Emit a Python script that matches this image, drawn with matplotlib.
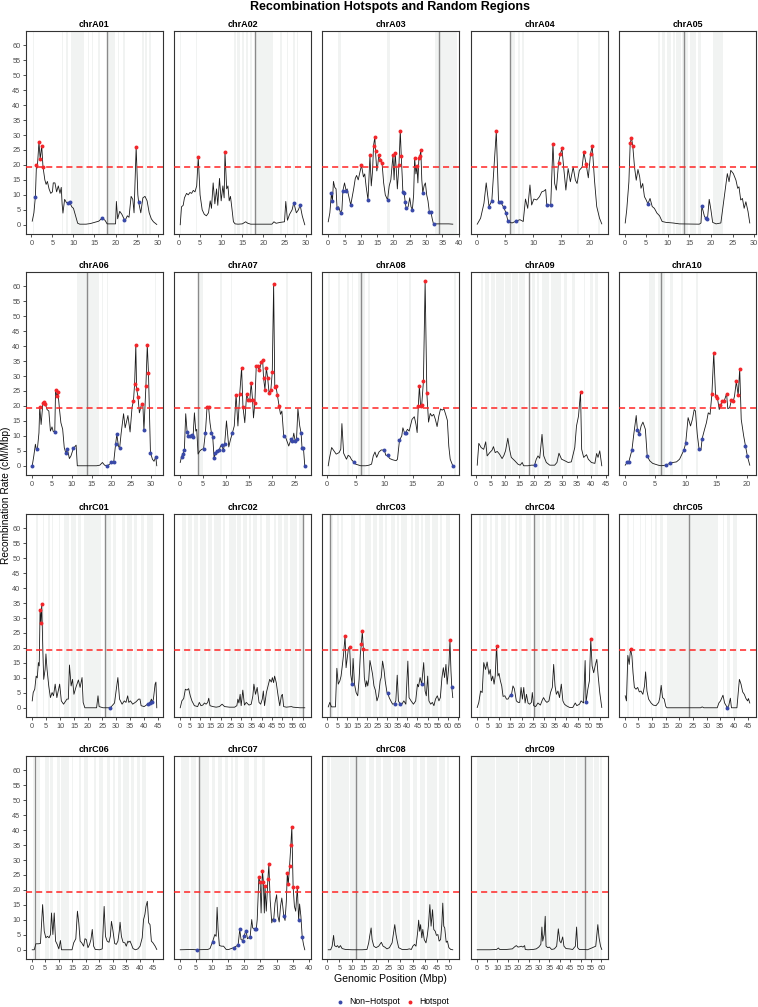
import matplotlib
matplotlib.use("Agg")
import matplotlib.pyplot as plt

plt.rcParams["font.family"] = ["Liberation Sans", "DejaVu Sans"]

# ---------------- data (Mbp, cM/Mbp) ----------------
chroms = ["chrA01", "chrA02", "chrA03", "chrA04", "chrA05", "chrA06", "chrA07",
          "chrA08", "chrA09", "chrA10", "chrC01", "chrC02", "chrC03", "chrC04",
          "chrC05", "chrC06", "chrC07", "chrC08", "chrC09"]
centromeres = [17.9, 18.0, 34.1, 5.9, 13.85, 13.75, 3.8, 6.0, 18.3, 6.0,
               26.0, 59.9, 1.3, 25.6, 23.7, 1.1, 5.9, 12.0, 52.1]
threshold = 19.35

A01_line = [(0.2, 1.2), (0.6, 4), (0.95, 9.4), (1.2, 19.9), (1.4, 19.0), (1.8, 27.6), (2.1, 21.9), (2.45, 26.5),
            (2.76, 19.3), (3.2, 15), (3.5, 13.5), (3.8, 14.5), (4.2, 12), (4.6, 10.5), (5.0, 11), (5.2, 14), (5.6, 14),
            (6.0, 11), (6.4, 13), (6.8, 10.5), (7.1, 12.5), (7.3, 7), (7.5, 3.9), (7.9, 8.5), (8.3, 7.5), (8.7, 7.2),
            (9.1, 7.5), (9.6, 6), (10, 5.5), (10.5, 3), (11, 0.5), (11.5, 0.2), (13, 0.2), (14, 0.4), (15, 0.8),
            (16, 1.2), (16.8, 2.2), (17.5, 1.5), (18, 0.3), (20, 0.3), (20.2, 7.8), (20.5, 2), (21, 4.5), (21.5, 3.5),
            (22.1, 1.7), (22.4, 1.8), (22.8, 3), (23.2, 2.5), (23.7, 9.5), (24.1, 8.5), (24.4, 4), (24.9, 26),
            (25.3, 10), (25.5, 7.5), (26, 4), (26.5, 9), (27, 9.5), (27.5, 8), (28, 4), (28.5, 2), (29, 1), (29.8, 0.1)]
A01_hot = [(1.2, 19.9), (1.8, 27.6), (2.1, 21.9), (2.45, 26.5), (2.76, 19.3), (24.9, 26)]
A01_non = [(0.95, 9.4), (8.7, 7.2), (9.1, 7.5), (16.8, 2.2), (22.1, 1.7), (25.5, 7.5)]
A01_bands = [(0.4, 0.7), (7.2, 7.5), (8.3, 8.6), (9.4, 9.8), (10.0, 12.6), (13.4, 13.8), (14.4, 14.7),
             (15.8, 16.2), (18.0, 19.8), (20.6, 20.9), (21.8, 22.2), (26.3, 26.7), (27.1, 27.5), (28.0, 28.4)]

A02_line = [(0.3, 0), (0.6, 6), (1, 6.5), (1.3, 9), (1.8, 10.5), (2.2, 10), (2.6, 10.8), (3, 10.5), (3.4, 11.5),
            (3.8, 11), (4.2, 13), (4.57, 22.6), (5.0, 10), (5.5, 5), (6, 3.5), (6.5, 3), (7, 4), (7.4, 8), (7.7, 5.5),
            (8.1, 14), (8.5, 7), (8.9, 12), (9.2, 6.5), (9.6, 15.5), (10, 8), (10.4, 13), (10.7, 9), (10.9, 24.2),
            (11.3, 12), (11.6, 13), (11.9, 8), (12.2, 9.5), (12.5, 6), (12.9, 1), (13.3, 0.3), (14, 0.2), (15, 0.3),
            (15.8, 1), (16.3, 0.5), (17, 0.2), (22, 0.2), (22.5, 1), (23, 0.5), (24, 0.8), (25, 1), (25.3, 7.8),
            (25.7, 1.5), (26.2, 3.5), (26.8, 5), (27.2, 7.4), (27.8, 4), (28.3, 5), (28.7, 6.6), (29.2, 3), (29.8, 0)]
A02_hot = [(4.57, 22.6), (10.9, 24.2)]
A02_non = [(27.2, 7.4), (28.7, 6.6)]
A02_bands = [(0.3, 0.6), (4.0, 4.3), (13.0, 13.4), (13.8, 14.5), (15.0, 15.3), (15.9, 16.3), (16.8, 17.2),
             (18.0, 22.3), (24.0, 24.3), (25.5, 25.8), (27.0, 27.4), (27.9, 28.2)]

A03_line = [(0, 1), (0.5, 4), (1.0, 10.7), (1.3, 8.0), (1.6, 14.5), (2.0, 12.5), (2.4, 12), (2.7, 5.7), (3.2, 6),
            (3.8, 3.9), (4.2, 5), (4.5, 11.4), (5.0, 14), (5.5, 11.3), (5.8, 12), (6.2, 10), (6.9, 6.6), (7.3, 9),
            (7.8, 12), (8.3, 15.5), (8.7, 16.5), (9.2, 15), (9.6, 17), (10.2, 19.9), (10.8, 16), (11.2, 17),
            (11.6, 13), (12.2, 8.3), (12.8, 23.2), (13.2, 13), (13.6, 18), (13.9, 26.5), (14.3, 29.3), (14.5, 24.5),
            (14.9, 18), (15.2, 20), (15.5, 23.2), (16.0, 21.8), (16.5, 20.7), (17.0, 14), (17.5, 10), (18.2, 8.3),
            (18.7, 13), (19.2, 15), (19.85, 23.2), (20.2, 15), (20.55, 24.0), (20.9, 18), (21.2, 12), (21.7, 20.1),
            (22.1, 31.5), (22.4, 22.9), (22.7, 16), (22.9, 10.8), (23.3, 10.5), (23.6, 7.7), (23.9, 5.5), (24.5, 6),
            (25.0, 9), (25.4, 6), (25.8, 5.0), (26.2, 10), (26.5, 22.3), (26.9, 17), (27.2, 19.7), (27.5, 14),
            (27.8, 22.2), (28.1, 22.9), (28.4, 24.9), (28.7, 15), (29.0, 10.7), (29.4, 13), (29.8, 14), (30.2, 10),
            (30.6, 8), (31.0, 4.4), (31.5, 4.2), (31.9, 2), (32.3, 0.2), (33, 0.3), (35, 0.3), (37, 0.3), (38.2, 0.2)]
A03_hot = [(10.2, 19.9), (12.8, 23.2), (13.9, 26.5), (14.3, 29.3), (14.5, 24.5), (15.5, 23.2), (16.0, 21.8),
           (16.5, 20.7), (19.85, 23.2), (20.55, 24.0), (21.7, 20.1), (22.1, 31.5), (22.4, 22.9), (26.5, 22.3),
           (27.2, 19.7), (27.8, 22.2), (28.1, 22.9), (28.4, 24.9)]
A03_non = [(1.0, 10.7), (1.3, 8.0), (2.7, 5.7), (3.8, 3.9), (4.5, 11.4), (5.5, 11.3), (6.9, 6.6), (12.2, 8.3),
           (18.2, 8.3), (22.9, 10.8), (23.3, 10.5), (23.6, 7.7), (23.9, 5.5), (25.8, 5.0), (29.0, 10.7),
           (31.0, 4.4), (31.5, 4.2), (32.3, 0.2)]
A03_bands = [(3.0, 4.0), (18.0, 19.0), (32.7, 39.5)]

A04_line = [(0.0, 0.2), (0.6, 2.2), (1.2, 7.2), (1.6, 14), (2.1, 6.1), (2.6, 8), (3.4, 31.2), (3.8, 7.7), (4.2, 7.5),
            (4.7, 5.9), (5.1, 4.1), (5.5, 1.1), (6.2, 0.6), (6.9, 1.2), (7.6, 1.7), (8.2, 1.1), (8.6, 8.6), (9.0, 5.5),
            (9.4, 13.3), (9.7, 6.6), (10.1, 8.6), (10.6, 8.3), (11.1, 9.4), (11.5, 11), (11.9, 11.3), (12.2, 11.8),
            (12.4, 6.6), (13.1, 6.6), (13.5, 27.1), (13.8, 13.8), (14.1, 11.6), (14.5, 20.8), (14.8, 23.5),
            (15.1, 25.6), (15.4, 19.3), (15.8, 11.6), (16.2, 18.8), (16.6, 14.4), (17.1, 19.3), (17.5, 14.9),
            (17.8, 13.8), (18.2, 18.2), (18.7, 19.3), (19.0, 24.3), (19.4, 20.4), (19.8, 15.7), (20.2, 23.8),
            (20.5, 26.3), (20.9, 14.9), (21.3, 6.1), (21.8, 2.2), (22.2, 0.3)]
A04_hot = [(3.4, 31.2), (13.5, 27.1), (14.5, 20.8), (14.8, 23.5), (15.1, 25.6), (19.0, 24.3), (19.4, 20.4),
           (20.2, 23.8), (20.5, 26.3)]
A04_non = [(2.1, 6.1), (2.6, 8), (3.8, 7.7), (4.2, 7.5), (4.7, 5.9), (5.1, 4.1), (5.5, 1.1), (6.9, 1.2),
           (12.4, 6.6), (13.1, 6.6)]
A04_bands = [(6.0, 6.8), (7.2, 7.6), (8.0, 8.4), (17.8, 18.2), (21.6, 21.9)]

A05_line = [(0.15, 0.6), (0.5, 5), (1.0, 14.4), (1.3, 27.3), (1.6, 29.1), (1.9, 26.3), (2.3, 19.3), (2.7, 14.9),
            (3.1, 18.5), (3.5, 16), (3.8, 12.2), (4.2, 13.8), (4.6, 9.4), (5.0, 8.3), (5.4, 7.0), (5.9, 8.8),
            (6.4, 6.1), (6.9, 5.5), (7.5, 3.9), (8.1, 3.0), (8.7, 1.1), (9.6, 0.8), (11.2, 0.6), (12.7, 0.3),
            (17.3, 0.2), (17.7, 0.6), (17.9, 6.3), (18.5, 2.8), (18.8, 2.2), (19.2, 1.9), (19.6, 8.5), (20.0, 5),
            (20.4, 0.8), (21.2, 0.3), (22.3, 0.6), (23.1, 9.4), (23.8, 17.1), (24.2, 14.4), (24.6, 18.2),
            (25.2, 17.1), (25.8, 14.9), (26.2, 12.2), (26.5, 12.7), (26.9, 8.3), (27.3, 8.8), (27.7, 5.5),
            (28.1, 7.7), (28.6, 4.4), (29.0, 0.6)]
A05_hot = [(1.3, 27.3), (1.6, 29.1), (1.9, 26.3)]
A05_non = [(5.4, 7.0), (17.9, 6.3), (18.8, 2.2), (19.2, 1.9)]
A05_bands = [(7.7, 8.2), (8.6, 9.4), (9.8, 10.8), (11.2, 11.6), (12.0, 13.0), (13.3, 14.8), (15.2, 16.5),
             (16.9, 17.7), (20.4, 22.7)]

A06_line = [(0, 0), (0.4, 3.3), (0.8, 7.2), (1.1, 5), (1.3, 5.5), (1.7, 11), (1.9, 19.7), (2.25, 13.8), (2.7, 21),
            (3.0, 21.3), (3.3, 20.7), (3.75, 18.8), (4.2, 18.3), (4.6, 11.6), (5.0, 13), (5.3, 11.5), (5.7, 11.3),
            (5.9, 25.2), (6.25, 23.3), (6.5, 24.7), (6.9, 18.8), (7.25, 14.4), (7.7, 12.2), (8.1, 6.1), (8.5, 4.2),
            (8.9, 5.5), (9.4, 2.4), (9.8, 3.3), (10.4, 5.8), (11.1, 6.9), (11.4, 0), (16.25, 0), (17.1, 0.2),
            (17.75, 1.1), (18.3, 0.2), (19.0, 0), (19.6, 0.55), (20, 1.1), (20.6, 1.1), (21.1, 7.4), (21.4, 10.5),
            (21.8, 6.6), (22.1, 5.8), (22.5, 11), (23.1, 17.4), (23.5, 12.7), (24.2, 16.8), (24.75, 11.3),
            (25.25, 19.6), (25.6, 21.6), (25.9, 27.5), (26.2, 40.4), (26.4, 25.7), (26.75, 23), (27.1, 17.7),
            (27.7, 20.8), (28.0, 19.9), (28.25, 11.8), (28.75, 26.6), (29.1, 40.4), (29.4, 31), (29.9, 4.4),
            (30.4, 2.2), (30.8, 1.5), (31.25, 3), (31.5, 0)]
A06_hot = [(1.9, 19.7), (2.7, 21), (3.0, 21.3), (3.3, 20.7), (5.9, 25.2), (6.25, 23.3), (6.5, 24.7), (25.6, 21.6),
           (25.9, 27.5), (26.2, 40.4), (26.4, 25.7), (26.75, 23), (27.7, 20.8), (28.75, 26.6), (29.1, 40.4),
           (29.4, 31)]
A06_non = [(0, 0), (1.3, 5.5), (5.7, 11.3), (8.5, 4.2), (8.9, 5.5), (10.4, 5.8), (19.0, 0), (20, 1.1), (20.6, 1.1),
           (21.1, 7.4), (21.4, 10.5), (22.1, 5.8), (28.25, 11.8), (29.9, 4.4), (31.25, 3)]
A06_bands = [(11.3, 16.8), (17.6, 17.9), (18.8, 19.2), (31.0, 31.4)]

A07_line = [(0.0, 1.1), (0.3, 3.1), (0.6, 4.1), (0.9, 5.2), (1.2, 17.4), (1.5, 11.4), (1.8, 10), (2.2, 10),
            (2.5, 10.4), (2.8, 9.6), (3.1, 17.7), (3.4, 11.6), (3.6, 12.2), (3.9, 3.9), (4.3, 5), (4.7, 5.5),
            (5.1, 5.7), (5.5, 11.1), (5.85, 19.5), (6.2, 19.5), (6.5, 14.4), (6.8, 11.1), (7.1, 9.6), (7.4, 2.5),
            (7.7, 4.4), (8.1, 4.9), (8.5, 5.2), (8.8, 6.6), (9.1, 6.9), (9.4, 5.2), (9.7, 7.2), (10.1, 15),
            (10.6, 6.3), (11.0, 8.9), (11.4, 11), (11.8, 13.3), (12.2, 23.8), (12.6, 13.3), (13.0, 24.1),
            (13.4, 32.7), (13.7, 19.7), (14.1, 14.4), (14.5, 24), (14.9, 22), (15.2, 22.1), (15.5, 27.7),
            (15.8, 21.9), (16.0, 16), (16.3, 21), (16.6, 33.2), (16.9, 33.2), (17.3, 31.9), (17.7, 34.6),
            (18.0, 35.4), (18.2, 29.3), (18.5, 25.5), (18.8, 32.7), (19.1, 29.3), (19.4, 24.4), (19.8, 25.5),
            (20.1, 31.2), (20.4, 60.7), (20.65, 26.4), (20.9, 26.6), (21.2, 23.8), (21.6, 19.9), (21.9, 17.2),
            (22.2, 18.3), (22.6, 10), (22.9, 10), (23.3, 8.3), (23.7, 6.6), (24.2, 8.9), (24.5, 8.3), (24.8, 10.9),
            (25.1, 8.3), (25.4, 8.9), (25.7, 19.1), (26.1, 13.3), (26.4, 10.9), (26.6, 5.9), (26.9, 6.1), (27.2, 0)]
A07_hot = [(5.85, 19.5), (6.2, 19.5), (12.2, 23.8), (13.0, 24.1), (13.4, 32.7), (13.7, 19.7), (14.5, 24),
           (14.9, 22), (15.2, 22.1), (15.5, 27.7), (15.8, 21.9), (16.3, 21), (16.6, 33.2), (16.9, 33.2),
           (17.3, 31.9), (17.7, 34.6), (18.0, 35.4), (18.2, 29.3), (18.5, 25.5), (18.8, 32.7), (19.1, 29.3),
           (19.4, 24.4), (19.8, 25.5), (20.1, 31.2), (20.4, 60.7), (20.65, 26.4), (20.9, 26.6), (21.2, 23.8),
           (21.6, 19.9)]
A07_non = [(0.3, 3.1), (0.6, 4.1), (0.9, 5.2), (1.5, 11.4), (1.8, 10), (2.2, 10), (2.5, 10.4), (2.8, 9.6),
           (5.1, 5.7), (5.5, 11.1), (6.8, 11.1), (7.1, 9.6), (7.4, 2.5), (7.7, 4.4), (8.1, 4.9), (8.5, 5.2),
           (9.1, 6.9), (9.4, 5.2), (9.7, 7.2), (11.4, 11), (22.6, 10), (24.2, 8.9), (24.5, 8.3), (25.1, 8.3),
           (25.4, 8.9), (26.4, 10.9), (26.6, 5.9), (26.9, 6.1), (27.2, 0)]
A07_bands = [(3.9, 4.9), (8.7, 9.1), (11.0, 11.4), (23.2, 23.6)]

A08_line = [(0.2, 0), (0.4, 2.4), (0.8, 6.1), (1.2, 5), (1.6, 3.9), (2.1, 4.4), (2.4, 5.5), (2.6, 14.1), (2.9, 4.2),
            (3.4, 2.2), (3.7, 3.5), (4.0, 3.1), (4.3, 2.0), (4.65, 1.3), (5.0, 0.55), (5.9, 0), (6.8, 0), (7.35, 0.2),
            (7.8, 0.55), (8.1, 3.3), (8.4, 4.6), (8.7, 2.8), (9.1, 4.6), (9.5, 5.3), (10.05, 5.2), (10.3, 3.5),
            (10.6, 3.5), (11.0, 2.4), (11.5, 2.0), (12.1, 1.7), (12.35, 2.2), (12.7, 8.5), (13.1, 10), (13.3, 12.7),
            (13.6, 10.9), (13.8, 11.1), (14.1, 12.2), (14.4, 11.6), (14.9, 15.5), (15.3, 16.4), (15.6, 13.8),
            (15.8, 11.1), (16.0, 19.9), (16.2, 26.8), (16.4, 19.9), (16.6, 20.3), (16.9, 28.2), (17.2, 61.7),
            (17.5, 24.4), (17.8, 14.6), (18.1, 17.5), (18.4, 16.6), (18.7, 17.2), (19.0, 15.5), (19.3, 13.1),
            (19.6, 16.6), (19.9, 19.0), (20.2, 18.6), (20.5, 19.0), (20.8, 17.2), (21.1, 15.2), (21.35, 6.6),
            (21.6, 2.2), (22.05, 0)]
A08_hot = [(16.0, 19.9), (16.2, 26.8), (16.4, 19.9), (16.6, 20.3), (16.9, 28.2), (17.2, 61.7), (17.5, 24.4)]
A08_non = [(4.65, 1.3), (10.05, 5.2), (10.6, 3.5), (12.7, 8.5), (13.6, 10.9), (13.8, 11.1), (22.05, 0)]
A08_bands = [(0.2, 0.5), (2.0, 2.3), (3.5, 3.8), (4.3, 4.6), (5.5, 6.6), (7.2, 7.5), (12.2, 12.5), (14.4, 14.8),
             (22.3, 22.6)]

A09_line = [(0.35, 0.2), (0.9, 7.5), (1.7, 6.1), (2.6, 5.5), (3.3, 8.0), (3.8, 3.3), (4.7, 4.4), (5.5, 5.2),
            (6.0, 6.4), (6.6, 4.4), (7.3, 4.8), (8.1, 3.9), (9.0, 2.4), (9.65, 3.5), (10.2, 5.0), (11.0, 9.2),
            (11.6, 5.5), (12.2, 2.8), (13.4, 1.7), (14.5, 0.55), (15.3, 0.2), (16.0, 1.1), (16.5, 0), (18.0, 0),
            (19.2, 0.2), (20.3, 0.2), (20.9, 2.2), (21.5, 3.3), (22.1, 2.5), (22.9, 10.5), (23.5, 3.3), (24.4, 1.1),
            (25.6, 0.2), (27.3, 0.2), (28.1, 1.1), (28.8, 4.2), (29.7, 2.2), (30.8, 1.7), (32.0, 1.1), (33.1, 1.3),
            (34.3, 6.1), (34.9, 13.3), (35.6, 16.6), (36.3, 24.6), (36.7, 5.5), (37.4, 2.8), (38.4, 3.7),
            (39.0, 2.2), (40.1, 1.1), (41.3, 0.8), (41.9, 4.1), (42.4, 2.8), (43.0, 5.0), (43.7, 0)]
A09_hot = [(36.3, 24.6)]
A09_non = [(20.3, 0.2)]
A09_bands = [(1.5, 2.5), (3, 4.5), (5, 6.5), (7, 9.5), (10, 12), (12.5, 14.5), (15, 17), (19.5, 20.5), (21, 22),
             (23, 25.5), (26, 29.5), (30.5, 31.5), (33.5, 34.5), (37.5, 38), (39.5, 40.5), (41.5, 42.5)]

A10_line = [(0.1, 0.2), (0.4, 1.1), (0.7, 1.4), (1.2, 5.3), (1.5, 10.5), (1.9, 16.8), (2.1, 11.8), (2.4, 10.5),
            (2.7, 13.3), (3.0, 14.6), (3.4, 12.2), (3.7, 3.3), (4.1, 1.7), (4.6, 0.8), (5.5, 0.2), (6.0, 0),
            (6.7, 0.2), (7.4, 0.8), (7.9, 1.1), (8.5, 1.3), (9.0, 2.2), (9.7, 5.2), (10.0, 7.5), (10.4, 16.1),
            (10.8, 13.3), (11.1, 15.5), (11.4, 18.8), (11.6, 18.3), (11.9, 10.5), (12.2, 5.5), (12.5, 5.2),
            (12.7, 9.1), (13.1, 12.2), (13.4, 14.4), (13.7, 17.7), (14.0, 17.2), (14.3, 24.1), (14.6, 37.7),
            (14.9, 23.3), (15.2, 22.7), (15.5, 18.8), (15.7, 20.2), (16.0, 21.6), (16.3, 21.6), (16.7, 24.1),
            (16.9, 19.1), (17.2, 19.4), (17.5, 21.9), (17.8, 21.6), (18.0, 23.3), (18.3, 28.2), (18.6, 23.5),
            (18.85, 32.4), (19.1, 15.5), (19.5, 10), (19.8, 6.6), (20.1, 3.3), (20.5, 0.2)]
A10_hot = [(14.3, 24.1), (14.6, 37.7), (14.9, 23.3), (15.2, 22.7), (15.7, 20.2), (16.0, 21.6), (16.3, 21.6),
           (16.7, 24.1), (17.5, 21.9), (17.8, 21.6), (18.3, 28.2), (18.6, 23.5), (18.85, 32.4)]
A10_non = [(0.4, 1.1), (0.7, 1.4), (1.2, 5.3), (2.1, 11.8), (2.4, 10.5), (3.7, 3.3), (6.7, 0.2), (7.4, 0.8),
           (9.7, 5.2), (10.0, 7.5), (12.2, 5.5), (12.7, 9.1), (19.8, 6.6), (20.1, 3.3)]
A10_bands = [(4.0, 5.0), (5.5, 6.6), (7.4, 8.0), (9.2, 9.5), (11.7, 12.0)]

C01_line = [(0, 2.3), (0.35, 5.1), (0.9, 6.2), (1.4, 10.6), (1.8, 10), (2.2, 15.1), (2.5, 14), (2.8, 32.8),
            (3.1, 28.5), (3.4, 34.8), (3.8, 18.9), (4.1, 9.5), (4.6, 12.8), (4.9, 18), (5.3, 12.8), (5.9, 7.3),
            (6.5, 3.4), (7.1, 5.1), (7.6, 4.0), (8.2, 7.9), (8.8, 3.4), (9.8, 7.9), (10.4, 2.3), (11.2, 1.2),
            (12.4, 2.9), (12.9, 2.9), (13.3, 14.3), (13.9, 7.3), (14.4, 9.5), (14.9, 4.5), (15.6, 6.8), (16.5, 9.3),
            (17.1, 6.8), (17.8, 10.1), (18.2, 1.8), (18.8, 0), (23.0, 0), (23.5, 4.0), (23.9, 0.4), (25.3, 0),
            (27.9, 0), (29.4, 1.6), (30.2, 7.3), (30.6, 10.1), (31.2, 2.9), (32.1, 1.2), (32.9, 2.3), (33.5, 1.8),
            (34.1, 4.0), (34.5, 1.8), (35.1, 2.3), (35.9, 1.2), (37.1, 2.0), (38.0, 2.9), (38.5, 2.9), (38.9, 0.7),
            (40.0, 0.4), (41.2, 1.2), (42.0, 1.6), (42.6, 2.9), (42.9, 1.8), (43.3, 2.9), (43.9, 7.9), (44.2, 8.6),
            (44.5, 0)]
C01_hot = [(2.8, 32.8), (3.1, 28.5), (3.4, 34.8)]
C01_non = [(27.9, 0), (41.2, 1.2), (42.0, 1.6), (42.9, 1.8)]
C01_bands = [(1.5, 2.2), (3.8, 4.3), (5.8, 6.4), (7.0, 7.5), (9.5, 10.0), (11.5, 13.0), (14.0, 15.5), (16.5, 17.5),
             (18.5, 24.5), (26.5, 28), (29, 30), (32, 33), (34, 35.5), (36.5, 37.5), (39, 40), (41, 43)]

C02_line = [(0.3, 0), (1.1, 2.3), (2.0, 3.1), (2.8, 6.2), (3.6, 5.9), (4.4, 6.4), (5.2, 4), (6.0, 2.3), (7.2, 0.7),
            (8.8, 0.4), (9.6, 1.8), (10.4, 0.7), (11.3, 0.9), (12.1, 1.6), (12.9, 1.2), (13.7, 1.8), (14.2, 3.2),
            (14.8, 0.7), (16.2, 0.4), (17.8, 0.2), (19.4, 0.4), (20.7, 1.2), (21.9, 0.4), (24.3, 0.2), (26.8, 0.2),
            (27.9, 0.7), (28.4, 2.9), (28.9, 1.6), (29.5, 4.5), (30.0, 0.7), (30.8, 5.9), (31.6, 0.9), (32.5, 1.8),
            (33.8, 0.9), (34.9, 1.2), (35.7, 4.0), (36.2, 7.9), (37.0, 4.5), (37.8, 6.8), (38.7, 1.8), (39.5, 1.2),
            (40.3, 2.9), (40.8, 5.6), (41.4, 0.7), (42.3, 5.1), (43.1, 7.3), (43.9, 9.5), (44.7, 8.6), (45.2, 10.1),
            (45.8, 8.4), (46.3, 10.6), (47.1, 8.4), (48.0, 4.0), (48.8, 0.7), (49.6, 4.0), (50.1, 4.5), (50.7, 0.4),
            (52.0, 0.2), (54.5, 0.4), (55.3, 0.2), (58.6, 0), (61.0, 0)]
C02_hot = []
C02_non = []
C02_bands = [(1, 3), (4, 6), (7, 9), (10, 13), (14, 16), (17, 20), (21, 22), (24, 27.5), (28, 30), (31, 33),
             (34, 35), (36, 37.5), (39, 40), (42, 44), (46, 47), (48, 50), (51, 53), (54, 57), (58, 60)]

C03_line = [(0.5, 0.3), (1.3, 1.8), (2.1, 0.3), (4.1, 0.3), (4.8, 13.2), (5.5, 7.9), (6.3, 9.0), (6.9, 10.6),
            (7.4, 13.4), (8.1, 17.5), (8.9, 24.1), (9.4, 13.4), (10.1, 17.3), (10.6, 20.0), (11.2, 20.3),
            (11.7, 11.2), (12.4, 8.1), (12.9, 16.5), (13.6, 7.9), (14.4, 5.1), (15.2, 4.0), (15.9, 9.5),
            (16.5, 17.8), (17.0, 21.2), (17.5, 25.6), (18.0, 19.7), (18.5, 10.1), (19.2, 7.0), (19.7, 9.0),
            (20.2, 7.3), (20.7, 9.5), (21.3, 15.8), (22.0, 13.4), (22.6, 11.2), (23.3, 7.3), (24.0, 5.9),
            (24.8, 2.3), (25.6, 4.0), (26.4, 9.0), (26.9, 10.1), (27.6, 15.6), (28.3, 12.8), (28.9, 9.0),
            (29.8, 5.1), (30.2, 4.8), (30.9, 3.4), (31.7, 2.3), (32.6, 1.2), (33.6, 1.4), (34.2, 2.3), (34.9, 10.9),
            (35.5, 2.3), (36.4, 1.2), (37.2, 1.2), (38.2, 2.3), (39.2, 1.2), (40.2, 15.6), (40.8, 3.4), (41.8, 2.3),
            (43.0, 1.2), (44.1, 2.3), (45.0, 7.9), (45.5, 7.0), (46.3, 10.1), (47.1, 7.9), (48.1, 15.1), (48.8, 5.6),
            (49.4, 4.0), (50.1, 10.6), (50.7, 2.3), (51.6, 1.2), (52.4, 1.8), (53.2, 0.7), (54.0, 2.9), (54.9, 4.0),
            (55.7, 2.3), (56.4, 3.4), (57.2, 10.1), (57.9, 13.4), (58.5, 10.1), (59.2, 14.5), (59.8, 7.9),
            (60.7, 14.5), (61.2, 22.5), (61.7, 12.3), (62.1, 7.0), (62.6, 3.4)]
C03_hot = [(8.9, 24.1), (11.2, 20.3), (17.0, 21.2), (17.5, 25.6), (18.0, 19.7), (61.2, 22.5)]
C03_non = [(12.4, 8.1), (30.2, 4.8), (33.6, 1.4), (36.4, 1.2), (47.1, 7.9), (62.1, 7.0)]
C03_bands = [(1.5, 3), (5, 6), (7, 8), (12, 14), (16, 17), (19, 22), (23, 25), (26, 28), (29, 30), (32, 34),
             (35, 36), (37, 40), (42, 43), (44, 46), (47, 48), (49, 51), (52, 55), (56, 57), (59, 61)]

C04_line = [(0.3, 0.1), (1.0, 1.8), (1.8, 5.6), (2.5, 5.1), (3.2, 15.1), (4.0, 12.8), (4.7, 15.3), (5.5, 11.2),
            (6.1, 12.8), (6.6, 9.0), (7.2, 10.6), (7.8, 7.9), (8.3, 10.6), (8.9, 20.8), (9.5, 10.6), (10.0, 11.5),
            (10.6, 9.0), (11.2, 7.3), (11.8, 3.8), (12.6, 4.0), (13.3, 2.9), (14.0, 2.9), (14.8, 4.0), (15.5, 4.2),
            (16.2, 7.3), (16.8, 6.4), (17.7, 2.3), (18.5, 1.8), (19.2, 1.8), (19.8, 6.8), (20.4, 2.9), (21.0, 6.8),
            (21.6, 1.6), (22.2, 4.5), (22.9, 1.6), (23.6, 1.2), (24.4, 1.8), (24.8, 5.1), (25.4, 0.7), (26.3, 0.4),
            (27.3, 1.6), (28.4, 0.9), (29.2, 2.5), (29.8, 3.4), (30.6, 2.3), (31.3, 1.8), (32.2, 2.3), (32.9, 5.1),
            (33.7, 6.8), (34.3, 14.5), (34.9, 7.3), (35.5, 4.5), (36.2, 5.6), (36.9, 3.4), (37.7, 7.9), (38.4, 2.3),
            (39.1, 1.2), (39.9, 0.7), (41.4, 0.1), (42.8, 0.1), (43.9, 1.6), (44.6, 0.7), (45.8, 1.2), (46.5, 2.3),
            (47.6, 1.6), (48.3, 15.8), (48.7, 1.8), (49.5, 6.2), (50.2, 9.0), (50.8, 23.0), (51.4, 14.0),
            (52.1, 11.7), (52.9, 14.5), (53.5, 16.2), (54.1, 10.6), (54.8, 5.1), (55.7, 0.1)]
C04_hot = [(8.9, 20.8), (50.8, 23.0)]
C04_non = [(15.5, 4.2), (48.7, 1.8)]
C04_bands = [(1, 2), (3, 4.5), (6, 7), (8, 9.5), (11, 13), (14, 15), (17, 18), (19, 20), (22, 24), (26, 28),
             (29, 30), (31, 33), (35, 36), (37, 38), (39, 41), (43, 44), (45, 46), (47, 48), (52, 53)]

C05_line = [(0.25, 4.0), (0.7, 2.3), (1.2, 17.5), (1.7, 14.5), (2.2, 19.7), (2.7, 17.3), (3.1, 11.7), (3.6, 6.8),
            (4.2, 6.2), (4.8, 6.8), (5.4, 5.3), (6.0, 5.6), (6.7, 4.5), (7.3, 7.3), (7.7, 12.0), (8.2, 5.6),
            (8.8, 2.9), (9.7, 1.6), (10.5, 0.9), (11.5, 0.7), (12.5, 1.8), (12.9, 3.4), (13.4, 7.5), (13.9, 3.4),
            (14.5, 2.9), (15.1, 0.4), (15.5, 0), (27.8, 0), (28.4, 0.3), (29.0, 0), (33.9, 0), (34.5, 1.6),
            (35.1, 2.3), (36.0, 4.2), (36.6, 1.6), (37.6, 0), (38.1, 0.7), (38.7, 3.2), (39.1, 0), (41.1, 0),
            (42.0, 9.5), (42.6, 7.9), (43.2, 5.3), (43.8, 4.5), (44.4, 3.1), (45.0, 2.3), (45.3, 3.1), (45.8, 1.6)]
C05_hot = [(2.2, 19.7)]
C05_non = [(37.6, 0)]
C05_bands = [(1, 1.5), (3, 3.5), (5.5, 6), (7.5, 8), (9.5, 10), (11, 12), (13, 14), (15.5, 34), (36, 36.5),
             (37.5, 38.5), (39.5, 41)]

C06_line = [(0.25, 0), (1.0, 0), (1.6, 2.0), (2.5, 2.0), (3.3, 2.1), (4.1, 15.1), (4.7, 6.2), (5.3, 4.0), (5.9, 4.5),
            (6.5, 4.0), (7.0, 5.1), (7.4, 12.3), (7.9, 5.1), (8.4, 12.3), (8.9, 2.9), (9.5, 1.8), (10.1, 0.3),
            (10.7, 3.1), (11.1, 0), (15.0, 0), (15.6, 2.3), (16.4, 3.7), (17.0, 12.9), (17.5, 9.0), (18.0, 2.9),
            (18.6, 2.3), (19.3, 1.2), (19.8, 3.7), (20.3, 3.4), (20.9, 0.7), (21.5, 1.8), (22.0, 3.4), (22.5, 6.8),
            (23.0, 1.2), (23.6, 0.1), (25.2, 0), (26.2, 0.3), (26.9, 14.5), (27.4, 4.5), (28.0, 2.9), (28.7, 2.5),
            (29.2, 4.5), (29.6, 9.5), (30.1, 6.8), (30.8, 2.1), (31.4, 1.8), (32.0, 2.9), (32.5, 6.2), (32.8, 9.2),
            (33.3, 4.5), (33.9, 2.5), (34.6, 2.3), (35.1, 1.2), (35.7, 2.9), (36.0, 2.5), (36.5, 2.9), (37.0, 1.8),
            (37.6, 0.4), (38.5, 0), (39.4, 0.3), (40.2, 1.2), (41.0, 4.0), (41.5, 10.1), (42.0, 11.8), (42.4, 14.5),
            (42.9, 16.2), (43.4, 9.0), (43.9, 8.4), (44.4, 2.9), (45.0, 2.3), (45.8, 1.2), (46.4, 0.1)]
C06_hot = []
C06_non = []
C06_bands = [(0.5, 1), (2, 3), (5, 6.5), (7, 8), (9.5, 10.5), (10.8, 14), (15, 15.5), (17.5, 18.5), (19.5, 21),
             (23, 24), (25, 26.5), (28, 29), (30, 31), (32, 33), (34, 36), (37, 38), (39, 40), (41, 42.5)]

C07_line = [(0.2, 0), (3.5, 0.1), (5.3, 0), (8.7, 0.1), (9.4, 0.4), (10.2, 2.7), (10.9, 5.1), (11.3, 4.5),
            (11.6, 14.2), (11.9, 6.8), (12.3, 1.4), (13.0, 1.2), (13.6, 1.2), (14.4, 0.1), (15.2, 0.1), (16.7, 0.7),
            (17.5, 1.2), (18.1, 1.6), (18.6, 6.8), (19.0, 3.4), (19.5, 3.1), (19.9, 4.5), (20.5, 6.4), (21.0, 3.7),
            (21.4, 4.0), (21.8, 4.2), (22.3, 10.1), (22.6, 7.3), (23.2, 7.0), (23.7, 6.8), (24.0, 10.1),
            (24.5, 24.2), (24.9, 22.6), (25.2, 12.3), (25.6, 26.5), (25.9, 22.8), (26.2, 12.3), (26.4, 21.3),
            (26.8, 12.9), (27.3, 23.6), (27.6, 28.6), (28.0, 16.7), (28.5, 9.0), (28.8, 10.3), (29.1, 10.1),
            (29.5, 15.6), (30.0, 18.4), (30.4, 11.2), (30.8, 9.3), (31.2, 14.5), (31.6, 17.3), (31.9, 14.5),
            (32.2, 11.4), (32.6, 9.8), (33.0, 16.2), (33.3, 25.6), (33.6, 22.0), (34.0, 28.0), (34.4, 35.0),
            (34.7, 41.1), (35.1, 21.0), (35.5, 14.5), (35.9, 12.9), (36.4, 20.9), (36.8, 9.9), (37.1, 15.3),
            (37.5, 11.2), (37.9, 4.4), (38.3, 1.8), (38.7, 0)]
C07_hot = [(24.5, 24.2), (24.9, 22.6), (25.6, 26.5), (25.9, 22.8), (26.4, 21.3), (27.3, 23.6), (27.6, 28.6),
           (33.3, 25.6), (33.6, 22.0), (34.0, 28.0), (34.4, 35.0), (34.7, 41.1), (35.1, 21.0), (36.4, 20.9)]
C07_non = [(5.3, 0), (10.2, 2.7), (16.7, 0.7), (18.1, 1.6), (18.6, 6.8), (19.5, 3.1), (19.9, 4.5), (20.5, 6.4),
           (21.8, 4.2), (23.2, 7.0), (23.7, 6.8), (29.1, 10.1), (32.2, 11.4), (36.8, 9.9), (37.9, 4.4)]
C07_bands = [(0.5, 3), (3.5, 5), (6, 9), (10, 11), (12, 13), (14, 15), (16, 16.5), (17, 18), (20, 21.5),
             (23, 24), (25.5, 26.5)]

C08_line = [(0.4, 0), (1.4, 0), (2.0, 1.2), (2.6, 4.8), (3.0, 1.4), (3.7, 1.0), (4.2, 1.4), (4.8, 0.7), (5.4, 1.4),
            (6.1, 0.4), (7.5, 0.1), (10.2, 0), (14.3, 0), (16.3, 0.1), (17.0, 2.3), (17.4, 4.5), (18.0, 7.3),
            (18.4, 3.4), (19.1, 1.2), (20.0, 0.7), (21.1, 1.2), (22.2, 2.5), (22.9, 1.2), (23.6, 0.9), (24.5, 0.3),
            (25.5, 0.7), (26.6, 2.3), (27.1, 5.1), (27.7, 8.4), (28.2, 5.1), (28.7, 2.9), (29.3, 0.7), (30.7, 0.1),
            (32.7, 0.1), (33.7, 0.3), (34.5, 0.1), (35.1, 1.2), (35.8, 1.8), (36.4, 1.2), (37.1, 5.9), (37.5, 9.9),
            (37.9, 6.2), (38.3, 8.4), (38.8, 4.0), (39.2, 6.8), (39.8, 3.4), (40.5, 2.3), (41.0, 4.5), (41.5, 7.9),
            (42.1, 15.1), (42.6, 7.9), (43.2, 13.4), (43.7, 6.8), (44.3, 6.2), (44.8, 4.8), (45.4, 5.1),
            (45.9, 2.9), (46.5, 3.4), (47.0, 8.4), (47.4, 15.6), (47.8, 7.9), (48.2, 7.3), (48.8, 2.5), (49.3, 2.9),
            (49.9, 0.7), (50.7, 0.1), (51.5, 0)]
C08_hot = []
C08_non = []
C08_bands = [(0, 1), (1.5, 9), (9.5, 16), (17, 19), (20, 22), (23, 26), (27, 30), (30.5, 34), (35, 37),
             (38, 40), (41, 45), (46, 48.5), (49, 50)]

C09_line = [(0.3, 0), (6.4, 0), (9.6, 0.1), (10.5, 0.6), (11.1, 0.1), (14.3, 0.1), (17.2, 0.3), (18.3, 1.0),
            (19.1, 1.4), (19.9, 0.9), (20.7, 1.0), (21.5, 1.2), (22.3, 0.9), (23.1, 1.4), (23.4, 0.1), (24.7, 0),
            (27.1, 0.1), (28.7, 0.3), (29.9, 0.9), (30.9, 1.8), (31.4, 7.6), (31.8, 2.9), (32.5, 5.1), (33.0, 11.2),
            (33.4, 1.2), (34.2, 0.7), (35.0, 0.9), (36.1, 0.1), (37.4, 0.3), (38.5, 1.2), (39.3, 7.0), (40.0, 2.9),
            (40.6, 2.3), (41.4, 4.3), (42.0, 1.2), (43.0, 0.4), (44.6, 0.3), (46.2, 0.1), (47.5, 1.2), (48.1, 7.6),
            (48.6, 0.7), (49.4, 0.1), (51.8, 0.1), (53.3, 0), (55.7, 0.7), (57.3, 1.2), (58.3, 8.4), (58.9, 4.0),
            (59.6, 1.2), (60.2, 0.1)]
C09_hot = []
C09_non = []
C09_bands = [(0, 9), (9.5, 20), (20.5, 26), (26.5, 35), (35.5, 42), (42.5, 48), (48.5, 56), (56.5, 59),
             (59.5, 60.5)]

lines = [A01_line, A02_line, A03_line, A04_line, A05_line, A06_line, A07_line, A08_line, A09_line, A10_line,
         C01_line, C02_line, C03_line, C04_line, C05_line, C06_line, C07_line, C08_line, C09_line]
hots = [A01_hot, A02_hot, A03_hot, A04_hot, A05_hot, A06_hot, A07_hot, A08_hot, A09_hot, A10_hot,
        C01_hot, C02_hot, C03_hot, C04_hot, C05_hot, C06_hot, C07_hot, C08_hot, C09_hot]
nons = [A01_non, A02_non, A03_non, A04_non, A05_non, A06_non, A07_non, A08_non, A09_non, A10_non,
        C01_non, C02_non, C03_non, C04_non, C05_non, C06_non, C07_non, C08_non, C09_non]
bands = [A01_bands, A02_bands, A03_bands, A04_bands, A05_bands, A06_bands, A07_bands, A08_bands, A09_bands,
         A10_bands, C01_bands, C02_bands, C03_bands, C04_bands, C05_bands, C06_bands, C07_bands, C08_bands,
         C09_bands]

# ---------------- layout ----------------
W, H = 758, 1007
fig = plt.figure(figsize=(W / 100, H / 100), dpi=100)

col_left = [26, 174, 322, 471, 619]
row_top = [31, 272, 514, 756]
pw, ph = 137, 203

HOT_C = "#f2262b"
NON_C = "#3949a8"

all_y = [y for ln in lines for _, y in ln]
ymin, ymax = min(all_y), max(all_y)
yr = ymax - ymin
ylim = (ymin - 0.05 * yr, ymax + 0.05 * yr)

for i, name in enumerate(chroms):
    r, c = divmod(i, 5)
    left, top = col_left[c], row_top[r]
    ax = fig.add_axes([left / W, 1 - (top + ph) / H, pw / W, ph / H])

    xs = [p[0] for p in lines[i]]
    ys = [p[1] for p in lines[i]]
    xr = max(xs) - min(xs)
    ax.set_xlim(min(xs) - 0.05 * xr, max(xs) + 0.05 * xr)
    ax.set_ylim(*ylim)

    for a, b in bands[i]:
        ax.axvspan(a, b, color="#f1f3f2", lw=0, zorder=0)
    ax.axvline(centromeres[i], color="#8a8a8a", lw=1.0, zorder=1)
    ax.plot(xs, ys, color="#1a1a1a", lw=0.6, zorder=2)
    ax.axhline(threshold, color="#ff2525", lw=1.1, ls=(0, (4, 2.6)), zorder=3)
    if nons[i]:
        ax.scatter([p[0] for p in nons[i]], [p[1] for p in nons[i]], s=8, color=NON_C, lw=0, zorder=4)
    if hots[i]:
        ax.scatter([p[0] for p in hots[i]], [p[1] for p in hots[i]], s=8, color=HOT_C, lw=0, zorder=5)

    xt = list(range(0, int(max(xs) + 0.05 * xr) + 1, 5))
    ax.set_xticks(xt)
    ax.set_xticklabels([str(t) for t in xt])
    if c == 0:
        ax.set_yticks(range(0, 61, 5))
    else:
        ax.set_yticks([])
    ax.tick_params(axis="both", direction="out", length=2.5, width=0.6, color="#333333",
                   labelsize=5.3, labelcolor="#4d4d4d", pad=1.5)
    for sp in ax.spines.values():
        sp.set_color("#333333")
        sp.set_linewidth(0.8)
    ax.set_title(name, fontsize=6.5, fontweight="bold", pad=3)

fig.text(390 / W, 1 - 7 / H, "Recombination Hotspots and Random Regions", ha="center", va="center",
         fontsize=9, fontweight="bold")
fig.text(6 / W, 1 - 495 / H, "Recombination Rate (cM/Mbp)", ha="center", va="center",
         rotation=90, fontsize=7.3)
fig.text(390 / W, 1 - 979 / H, "Genomic Position (Mbp)", ha="center", va="center", fontsize=7.6)

# legend
leg_ax = fig.add_axes([0, 0, 1, 1], facecolor="none")
leg_ax.set_xlim(0, W)
leg_ax.set_ylim(H, 0)
leg_ax.axis("off")
leg_ax.scatter([340], [1002], s=8, color=NON_C, lw=0)
leg_ax.text(349, 1002, "Non\u2212Hotspot", fontsize=6.2, va="center", ha="left")
leg_ax.scatter([410], [1002], s=8, color=HOT_C, lw=0)
leg_ax.text(419, 1002, "Hotspot", fontsize=6.2, va="center", ha="left")

fig.savefig("out.png", dpi=100)
